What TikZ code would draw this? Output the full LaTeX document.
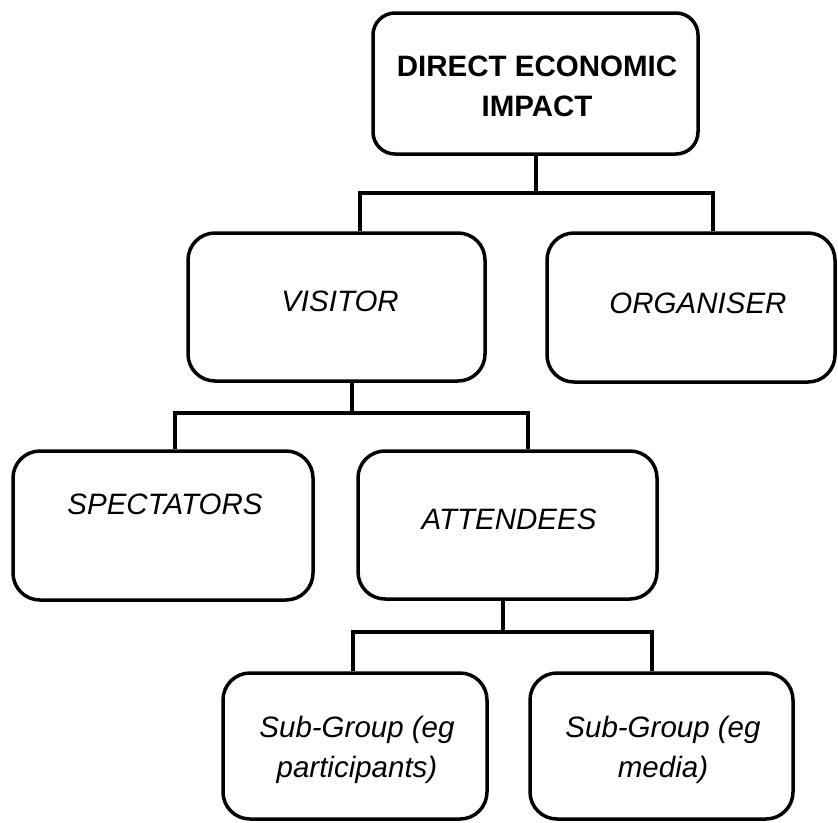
\documentclass[tikz,border=0pt]{standalone}
\usepackage{fontspec}
\setmainfont{Liberation Sans}
\begin{document}
\begin{tikzpicture}[x=1pt,y=-1pt,
  box/.style={draw=black, line width=3.5pt, rounded corners=27pt, rectangle, inner sep=0pt, fill=white},
  topbox/.style={box, rounded corners=22pt},
  lbl/.style={inner sep=0pt, anchor=base, font=\fontsize{29.5}{40}\selectfont\itshape},
  blbl/.style={inner sep=0pt, anchor=base, font=\fontsize{29.5}{40}\selectfont\bfseries},
  conn/.style={draw=black, line width=3.5pt}]
\useasboundingbox (0,0) rectangle (838,822);
\fill[white] (0,0) rectangle (838,822);
% boxes
\node[topbox, minimum width=325pt, minimum height=141pt] (top) at (535.5,83.5) {};
\node[box, minimum width=297pt, minimum height=148pt] (visitor) at (336.5,307) {};
\node[box, minimum width=288pt, minimum height=149pt] (organiser) at (691,307.5) {};
\node[box, minimum width=300pt, minimum height=149pt] (spectators) at (163,525.5) {};
\node[box, minimum width=299pt, minimum height=148pt] (attendees) at (507.5,525) {};
\node[box, minimum width=264pt, minimum height=146pt] (sub1) at (355,746) {};
\node[box, minimum width=263pt, minimum height=146pt] (sub2) at (661.5,746) {};
% texts
\node[blbl] (topA) at (537,76) {DIRECT ECONOMIC};
\node[blbl] (topB) at (537,116) {IMPACT};
\node[lbl] (visitorT) at (340,311) {VISITOR};
\node[lbl] (organiserT) at (698,313) {ORGANISER};
\node[lbl] (spectatorsT) at (165,514) {SPECTATORS};
\node[lbl] (attendeesT) at (509,529) {ATTENDEES};
\node[lbl] (sub1A) at (357,737) {Sub-Group (eg};
\node[lbl] (sub1B) at (357,777) {participants)};
\node[lbl] (sub2A) at (663,737) {Sub-Group (eg};
\node[lbl] (sub2B) at (663,777) {media)};
% junctions
\coordinate (j1) at (536,193);
\coordinate (j1l) at (360,193);
\coordinate (j1r) at (713,193);
\coordinate (j2) at (352,413);
\coordinate (j2l) at (175,413);
\coordinate (j2r) at (528,413);
\coordinate (j3) at (503,632);
\coordinate (j3l) at (353,632);
\coordinate (j3r) at (652,632);
% connectors
\draw[conn] (top.south -| j1) -- (j1);
\draw[conn] (visitor.north -| j1l) -- (j1l) -- (j1r) -- (organiser.north -| j1r);
\draw[conn] (visitor.south -| j2) -- (j2);
\draw[conn] (spectators.north -| j2l) -- (j2l) -- (j2r) -- (attendees.north -| j2r);
\draw[conn] (attendees.south -| j3) -- (j3);
\draw[conn] (sub1.north -| j3l) -- (j3l) -- (j3r) -- (sub2.north -| j3r);
\end{tikzpicture}
\end{document}
